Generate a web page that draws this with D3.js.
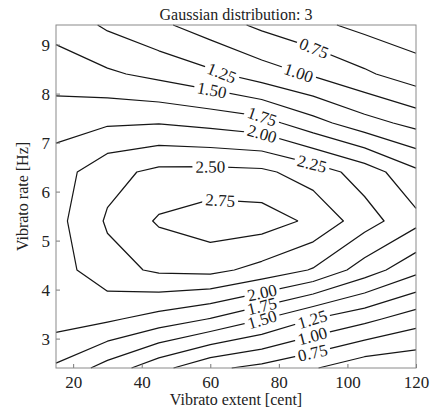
<!DOCTYPE html>
<html>
<head>
<meta charset="utf-8">
<script src="https://cdn.jsdelivr.net/npm/d3@7"></script>
<style>
  body { margin: 0; background: #fff; }
  svg { display: block; font-family: "Liberation Serif", "DejaVu Serif", serif; }
</style>
</head>
<body>
<svg id="chart" width="433" height="410"></svg>
<script>
// grid of the surface: vibrato extent (cent) x vibrato rate (Hz)
var extents = [15, 30, 45, 60, 75, 90, 105, 120];
var rates = [2.4, 3.4, 4.4, 5.4, 6.4, 7.4, 8.4, 9.4];

// one row per rate, one value per extent
var row24 = [1.71, 1.40, 1.08, 0.80, 0.68, 0.52, 0.33, 0.29];
var row34 = [2.11, 2.04, 1.90, 1.74, 1.51, 1.25, 1.07, 0.86];
var row44 = [2.14, 2.41, 2.54, 2.57, 2.42, 2.23, 1.88, 1.57];
var row54 = [2.17, 2.53, 2.78, 2.89, 2.87, 2.70, 2.36, 2.07];
var row64 = [2.13, 2.42, 2.56, 2.57, 2.55, 2.38, 2.14, 1.80];
var row74 = [1.91, 1.97, 1.99, 1.93, 1.85, 1.59, 1.35, 1.17];
var row84 = [1.62, 1.54, 1.43, 1.30, 1.12, 0.97, 0.79, 0.61];
var row94 = [1.42, 1.21, 1.05, 0.87, 0.70, 0.56, 0.43, 0.35];

var levels = [0.50, 0.75, 1.00, 1.25, 1.50, 1.75, 2.00, 2.25, 2.50, 2.75];

// inline contour labels: level and where it sits
var labelLevels = [0.75, 1.00, 1.25, 1.50, 1.75, 2.00, 2.25, 2.50, 2.75, 2.00, 1.75, 1.50, 1.25, 1.00, 0.75];
var labelExtents = [90.3, 85.9, 63.4, 60.5, 75.1, 75.1, 89.7, 60.0, 63.0, 75.1, 75.1, 75.1, 89.7, 89.7, 89.7];
var labelRates = [8.94, 8.45, 8.43, 8.08, 7.53, 7.18, 6.57, 6.59, 5.94, 3.94, 3.65, 3.39, 3.41, 3.08, 2.76];

var xTicks = [20, 40, 60, 80, 100, 120];
var yTicks = [3, 4, 5, 6, 7, 8, 9];

var W = 433, H = 410;
var plotL = 56, plotT = 25, plotR = 416, plotB = 368;

var x = d3.scaleLinear().domain([extents[0], extents[extents.length - 1]]).range([plotL, plotR]);
var y = d3.scaleLinear().domain([rates[0], rates[rates.length - 1]]).range([plotB, plotT]);

var nx = extents.length, ny = rates.length;
var grid = [].concat(row24, row34, row44, row54, row64, row74, row84, row94);

// d3.contours puts value i at grid coordinate i + 0.5
var gx = d3.scaleLinear().domain([0.5, nx - 0.5]).range(x.domain());
var gy = d3.scaleLinear().domain([0.5, ny - 0.5]).range(y.domain());

var contours = d3.contours().size([nx, ny]).thresholds(levels)(grid);

function inside(p) {
  var e = 1e-6;
  return p[0] >= x.domain()[0] - e && p[0] <= x.domain()[1] + e &&
    p[1] >= y.domain()[0] - e && p[1] <= y.domain()[1] + e;
}

// split a closed ring into the open pieces that lie on the data area
function runsOf(ring) {
  var pts = ring.map(function (p) { return [gx(p[0]), gy(p[1])]; });
  pts.pop();
  var flags = pts.map(inside);
  var start = flags.indexOf(false);
  if (start < 0) {
    pts.push(pts[0]);
    return [pts];
  }
  var runs = [], cur = [];
  for (var k = 1; k <= pts.length; k++) {
    var i = (start + k) % pts.length;
    if (flags[i]) {
      cur.push(pts[i]);
    } else {
      if (cur.length > 1) { runs.push(cur); }
      cur = [];
    }
  }
  return runs;
}

var lines = [];
contours.forEach(function (c) {
  c.coordinates.forEach(function (poly) {
    poly.forEach(function (ring) {
      runsOf(ring).forEach(function (r) {
        lines.push({level: c.value, pts: r});
      });
    });
  });
});

var svg = d3.select('#chart');
var defs = svg.append('defs');
var mask = defs.append('mask').attr('id', 'gaps')
  .attr('maskUnits', 'userSpaceOnUse')
  .attr('x', 0).attr('y', 0).attr('width', W).attr('height', H);
mask.append('rect').attr('width', W).attr('height', H).attr('fill', '#fff');

var line = d3.line()
  .x(function (d) { return x(d[0]); })
  .y(function (d) { return y(d[1]); });

svg.append('g')
  .attr('mask', 'url(#gaps)')
  .selectAll('path')
  .data(lines)
  .enter()
  .append('path')
    .attr('d', function (d) { return line(d.pts); })
    .attr('fill', 'none')
    .attr('stroke', '#161616')
    .attr('stroke-width', 1.25)
    .attr('stroke-linejoin', 'round');

// snap each label onto its contour and follow the local direction
function place(level, ex, ra) {
  var px = x(ex), py = y(ra);
  var best = null;
  lines.forEach(function (l) {
    if (Math.abs(l.level - level) > 1e-9) { return; }
    for (var i = 1; i < l.pts.length; i++) {
      var ax = x(l.pts[i - 1][0]), ay = y(l.pts[i - 1][1]);
      var bx = x(l.pts[i][0]), by = y(l.pts[i][1]);
      var dx = bx - ax, dy = by - ay;
      var len2 = dx * dx + dy * dy;
      if (len2 === 0) { continue; }
      var t = Math.max(0, Math.min(1, ((px - ax) * dx + (py - ay) * dy) / len2));
      var qx = ax + t * dx, qy = ay + t * dy;
      var dist = (qx - px) * (qx - px) + (qy - py) * (qy - py);
      if (!best || dist < best.dist) {
        var ang = Math.atan2(dy, dx) * 180 / Math.PI;
        if (ang > 90) { ang -= 180; }
        if (ang < -90) { ang += 180; }
        best = {dist: dist, x: qx, y: qy, angle: ang};
      }
    }
  });
  return best || {x: px, y: py, angle: 0};
}

var fmt = d3.format('.2f');
var labelData = labelLevels.map(function (lv, i) {
  var p = place(lv, labelExtents[i], labelRates[i]);
  return {text: fmt(lv), x: p.x, y: p.y, angle: p.angle};
});

var labelG = svg.append('g');
labelData.forEach(function (d) {
  var t = labelG.append('text')
    .attr('transform', 'translate(' + d.x + ',' + d.y + ') rotate(' + d.angle + ')')
    .attr('text-anchor', 'middle')
    .attr('dy', '0.35em')
    .attr('font-size', 17)
    .attr('fill', '#1a1a1a')
    .text(d.text);
  var w = t.node().getComputedTextLength() + 6;
  mask.append('rect')
    .attr('x', -w / 2).attr('y', -7)
    .attr('width', w).attr('height', 14)
    .attr('transform', 'translate(' + d.x + ',' + d.y + ') rotate(' + d.angle + ')')
    .attr('fill', '#000');
});

// axes with inward ticks
var xAxis = svg.append('g')
  .attr('transform', 'translate(0,' + plotB + ')')
  .call(d3.axisBottom(x).tickValues(xTicks).tickFormat(d3.format('d'))
    .tickSizeInner(-4).tickSizeOuter(0).tickPadding(8));
var yAxis = svg.append('g')
  .attr('transform', 'translate(' + plotL + ',0)')
  .call(d3.axisLeft(y).tickValues(yTicks).tickFormat(d3.format('d'))
    .tickSizeInner(-4).tickSizeOuter(0).tickPadding(6));

[xAxis, yAxis].forEach(function (a) {
  a.select('.domain').remove();
  a.selectAll('.tick line').attr('stroke', '#777');
  a.selectAll('.tick text')
    .attr('font-family', '"Liberation Serif", serif')
    .attr('font-size', 17)
    .attr('fill', '#222');
});

svg.append('rect')
  .attr('x', plotL).attr('y', plotT)
  .attr('width', plotR - plotL).attr('height', plotB - plotT)
  .attr('fill', 'none')
  .attr('stroke', '#8a8a8a')
  .attr('stroke-width', 1);

svg.append('text')
  .attr('x', (plotL + plotR) / 2).attr('y', 20)
  .attr('text-anchor', 'middle')
  .attr('font-size', 16)
  .attr('fill', '#222')
  .text('Gaussian distribution: 3');

svg.append('text')
  .attr('x', (plotL + plotR) / 2).attr('y', 405)
  .attr('text-anchor', 'middle')
  .attr('font-size', 16)
  .attr('fill', '#222')
  .text('Vibrato extent [cent]');

svg.append('text')
  .attr('transform', 'translate(28,' + (plotT + plotB) / 2 + ') rotate(-90)')
  .attr('text-anchor', 'middle')
  .attr('font-size', 16)
  .attr('fill', '#222')
  .text('Vibrato rate [Hz]');
</script>
</body>
</html>
